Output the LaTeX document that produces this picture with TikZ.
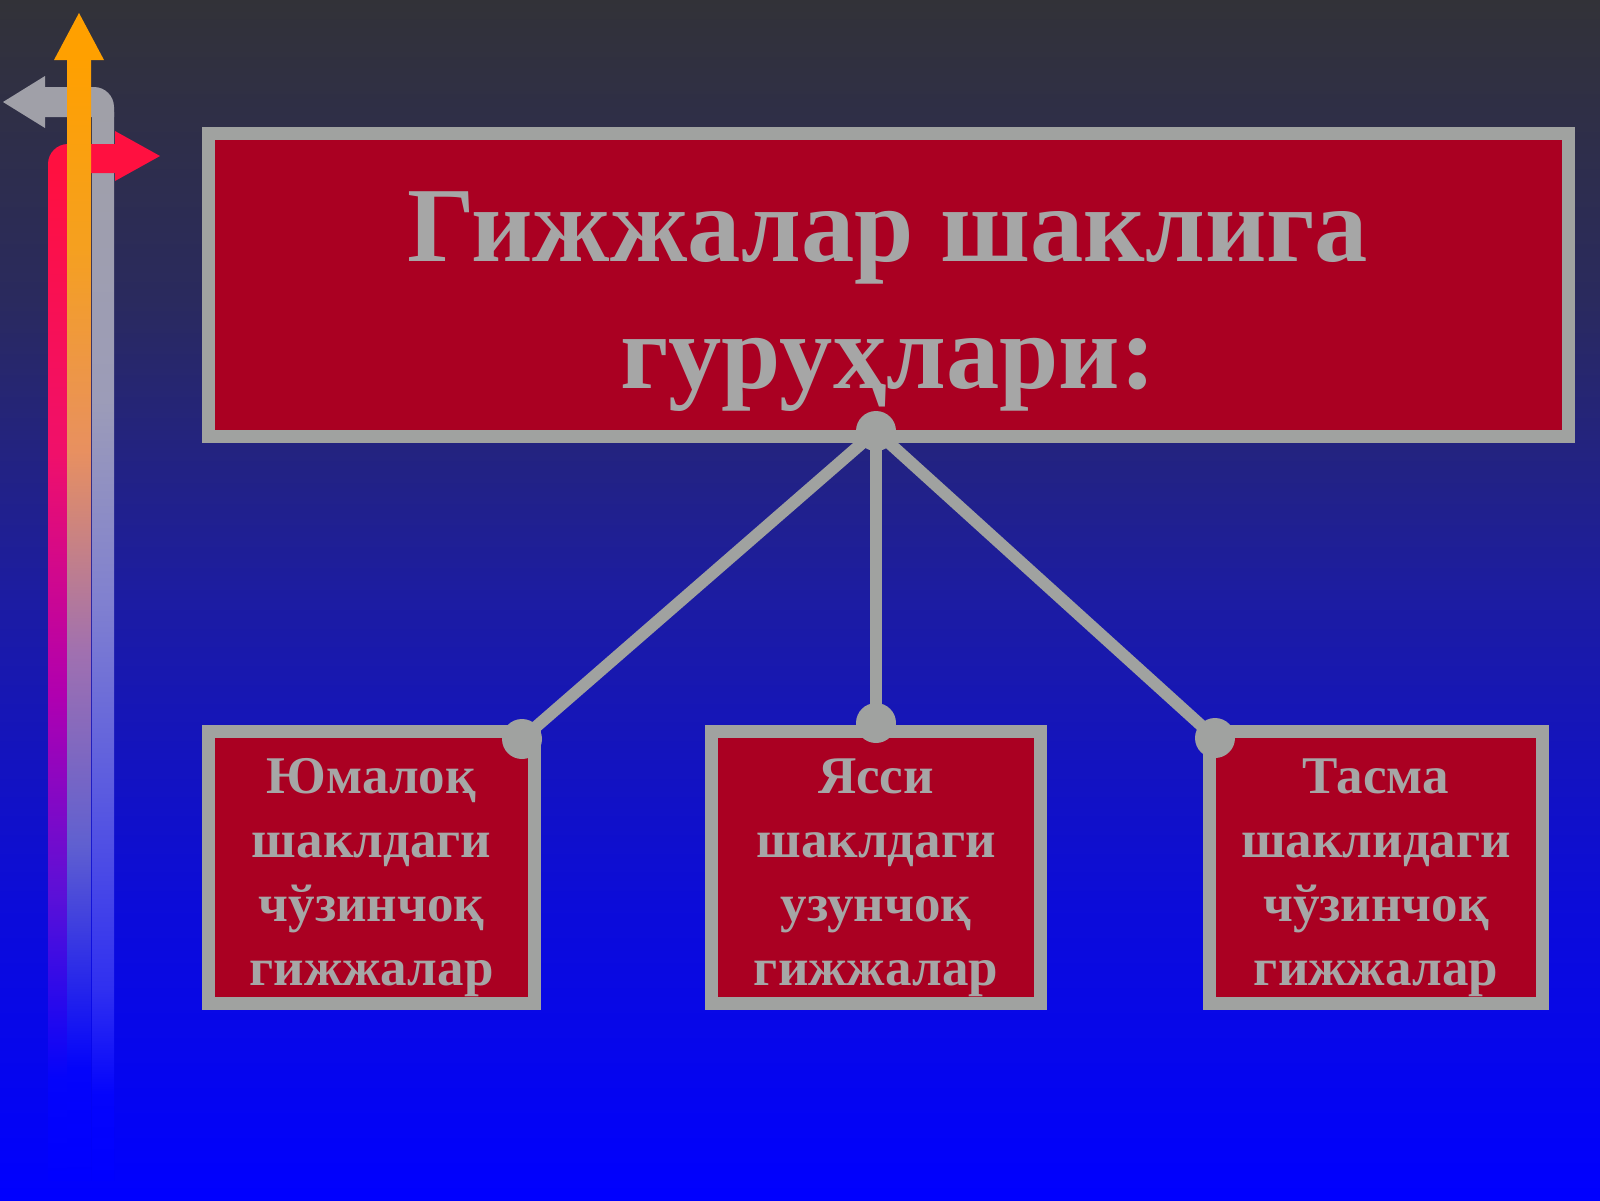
\documentclass[tikz,border=0pt]{standalone}
\usepackage{fontspec}
\setmainfont{Liberation Serif}
\usetikzlibrary{calc}
\definecolor{boxred}{HTML}{AA0022}
\definecolor{bordergray}{HTML}{A0A2A0}
\definecolor{textgray}{HTML}{A6A6A6}
\definecolor{bgA}{HTML}{323238}
\definecolor{bgB}{HTML}{2A2A5E}
\definecolor{bgC}{HTML}{1C1CA2}
\definecolor{bgD}{HTML}{0C0CD8}
\definecolor{bgE}{HTML}{0000FF}
\definecolor{redA}{HTML}{FF1040}
\definecolor{redB}{HTML}{F0106A}
\definecolor{redC}{HTML}{B000B0}
\definecolor{redD}{HTML}{5A10D8}
\definecolor{redE}{HTML}{0404FA}
\definecolor{grayA}{HTML}{A0A0A8}
\definecolor{grayB}{HTML}{9C9CB8}
\definecolor{grayC}{HTML}{8080D0}
\definecolor{grayD}{HTML}{5A5AE0}
\definecolor{grayE}{HTML}{3030F0}
\definecolor{grayF}{HTML}{0404FC}
\definecolor{orA}{HTML}{FFA000}
\definecolor{orB}{HTML}{F5A020}
\definecolor{orC}{HTML}{E89060}
\definecolor{orD}{HTML}{A070B0}
\definecolor{orE}{HTML}{6060D0}
\definecolor{orF}{HTML}{0404FA}
\pgfdeclareverticalshading{bgshade}{100bp}{color(0bp)=(bgE); color(25bp)=(bgE); color(37.5bp)=(bgD); color(50bp)=(bgC); color(62.5bp)=(bgB); color(75bp)=(bgA); color(100bp)=(bgA)}
\pgfdeclareverticalshading{redshade}{100bp}{color(0bp)=(bgE); color(25bp)=(bgE); color(30bp)=(redE); color(39bp)=(redD); color(49bp)=(redC); color(61bp)=(redB); color(75bp)=(redA); color(100bp)=(redA)}
\pgfdeclareverticalshading{grayshade}{100bp}{color(0bp)=(bgE); color(25bp)=(bgE); color(29bp)=(grayF); color(34bp)=(grayE); color(43bp)=(grayD); color(52bp)=(grayC); color(61.5bp)=(grayB); color(75bp)=(grayA); color(100bp)=(grayA)}
\pgfdeclareverticalshading{orshade}{100bp}{color(0bp)=(bgE); color(25bp)=(bgE); color(30bp)=(orF); color(40bp)=(orE); color(48.5bp)=(orD); color(57.5bp)=(orC); color(66.5bp)=(orB); color(75bp)=(orA); color(100bp)=(orA)}
\tikzset{
  panel/.style={draw=bordergray, fill=boxred, line width=6.5pt, inner sep=0pt},
  ttl/.style={font=\bfseries\fontsize{53.3}{63.5}\selectfont, text=textgray, align=center, inner sep=0pt},
  lbl/.style={font=\bfseries\fontsize{26.5}{32}\selectfont, text=textgray, align=center, inner sep=0pt},
  link/.style={draw=bordergray, line width=6pt},
  knob/.style={circle, fill=bordergray, minimum size=20pt, inner sep=0pt}
}
\begin{document}
\begin{tikzpicture}[x=0.5pt, y=-0.5pt]
\useasboundingbox (0,0) rectangle (1600,1200);
\fill[shading=bgshade] (0,0) rectangle (1600,1200);
% gray arrow
\fill[shading=grayshade] (92,112) rectangle (114,1180);
\fill[grayA] (45,117) -- (45,87) -- (94,87) arc[start angle=90, end angle=0, radius=10pt] -- (114,117) -- cycle;
\fill[grayA] (45,76) -- (3,102) -- (45,128) -- cycle;
% red arrow
\fill[shading=redshade] (48,170) rectangle (74,1180);
\fill[redA] (116,173) -- (48,173) -- (48,164) arc[start angle=180, end angle=90, radius=10pt] -- (116,144) -- cycle;
\fill[redA] (115,131) -- (160,156) -- (115,181) -- cycle;
% orange arrow
\fill[shading=orshade] (67,58) rectangle (91,1180);
\fill[orA] (54,60) -- (79,13) -- (104,60) -- cycle;
% panels
\node[panel, minimum width=680.25pt, minimum height=151.75pt] (title) at (888.25,284.75) {};
\node[panel, minimum width=163pt, minimum height=136pt] (b1) at (371.5,867.5) {};
\node[panel, minimum width=164.5pt, minimum height=136pt] (b2) at (876,867.5) {};
\node[panel, minimum width=166.5pt, minimum height=136pt] (b3) at (1376,867.5) {};
% connectors
\coordinate (hub) at (876,431);
\coordinate (d1) at (522,739);
\coordinate (d2) at (876,723);
\coordinate (d3) at (1215,738);
\draw[link] (hub) -- (d1);
\draw[link] (hub) -- (d2);
\draw[link] (hub) -- (d3);
\node[knob] (k0) at (hub) {};
\node[knob] (k1) at (d1) {};
\node[knob] (k2) at (d2) {};
\node[knob] (k3) at (d3) {};
% texts
\node[ttl] (ttext) at (888,302) {Гижжалар шаклига\\гуруҳлари:};
\node[lbl] (t1) at (371.5,878) {Юмалоқ\\шаклдаги\\чўзинчоқ\\гижжалар};
\node[lbl] (t2) at (876,878) {Ясси\\шаклдаги\\узунчоқ\\гижжалар};
\node[lbl] (t3) at (1376,878) {Тасма\\шаклидаги\\чўзинчоқ\\гижжалар};
\end{tikzpicture}
\end{document}
